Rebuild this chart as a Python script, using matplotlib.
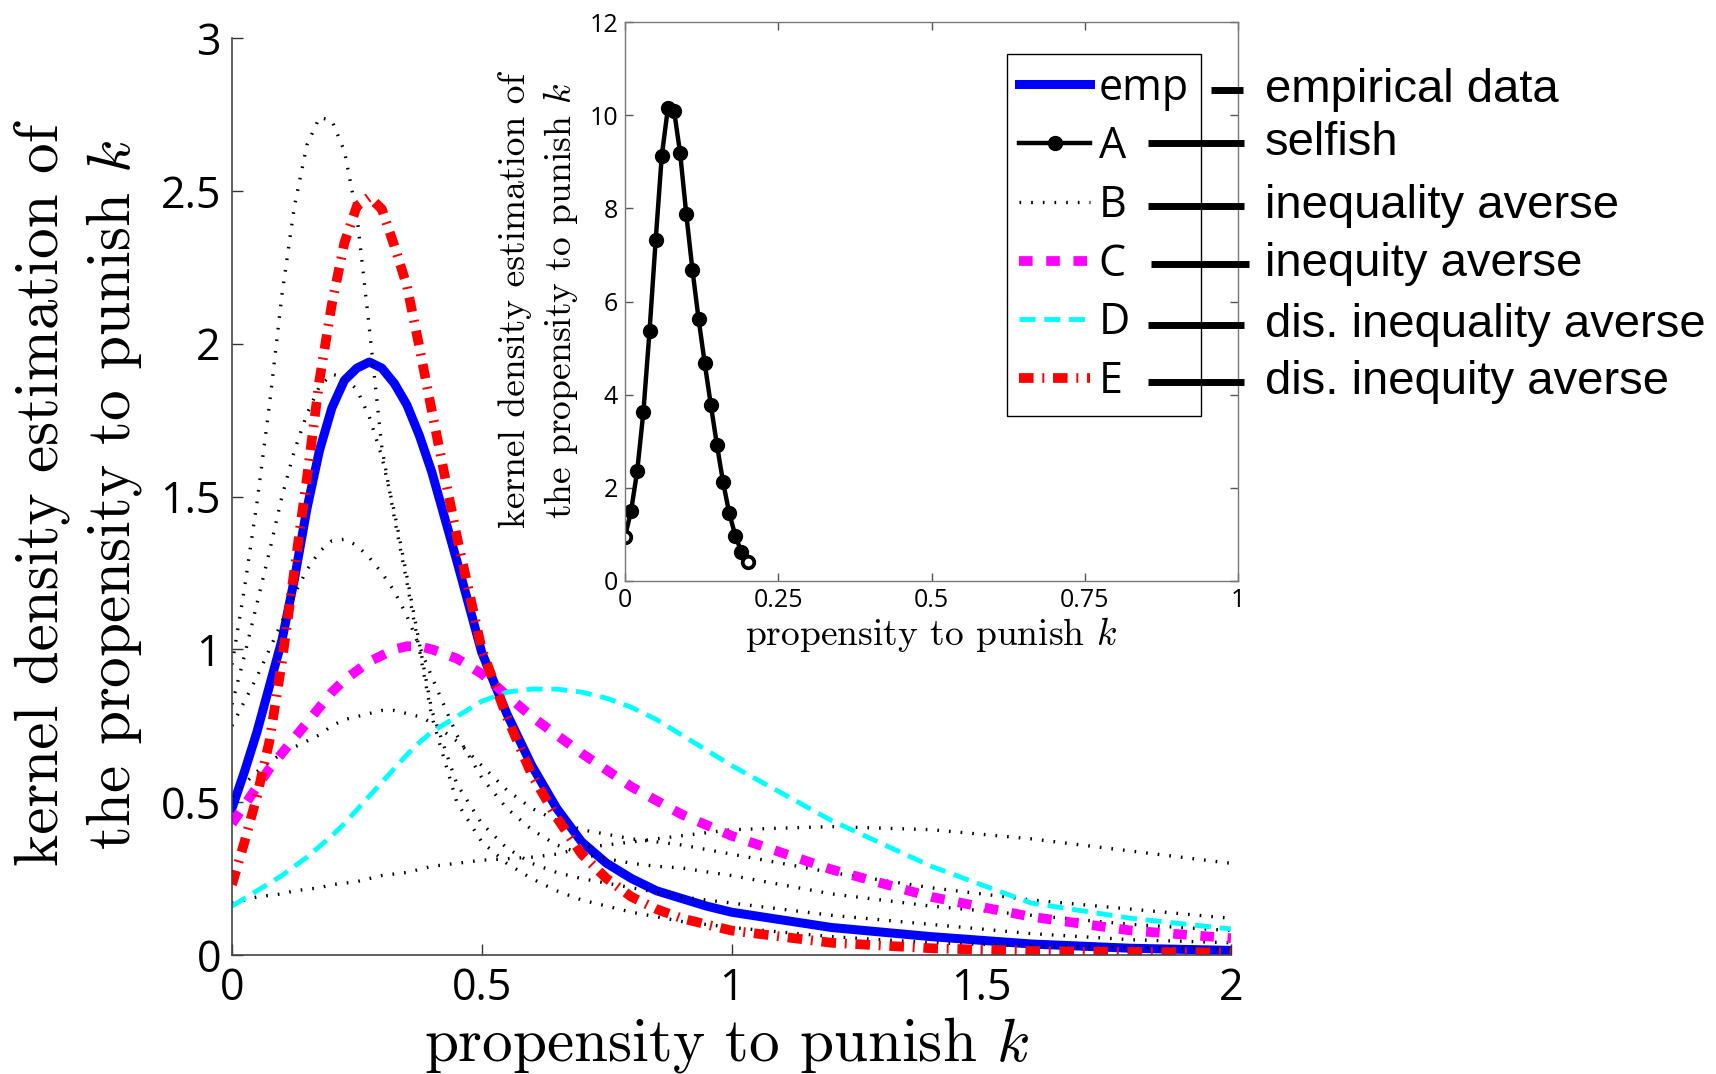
import numpy as np
import matplotlib
matplotlib.use('Agg')
import matplotlib.pyplot as plt
from matplotlib.lines import Line2D

plt.rcParams['font.family'] = 'Open Sans'
plt.rcParams['mathtext.fontset'] = 'cm'

# propensity to punish k (main plot grid)
k = [0, 0.025, 0.05, 0.075, 0.1, 0.125, 0.15, 0.175, 0.2, 0.225, 0.25, 0.275, 0.3, 0.325,
     0.35, 0.375, 0.4, 0.45, 0.5, 0.55, 0.6, 0.65, 0.7, 0.75, 0.8, 0.85, 0.9, 0.95, 1.0,
     1.2, 1.4, 1.6, 1.8, 2.0]

emp = [0.48, 0.60, 0.73, 0.88, 1.03, 1.23, 1.46, 1.65, 1.79, 1.88, 1.92, 1.94, 1.92, 1.87,
       1.80, 1.70, 1.58, 1.29, 0.99, 0.79, 0.62, 0.48, 0.37, 0.30, 0.25, 0.21, 0.185, 0.16, 0.14,
       0.09, 0.06, 0.036, 0.022, 0.015]

# inequality averse (several runs)
B1 = [0.95, 1.20, 1.48, 1.80, 2.16, 2.45, 2.65, 2.74, 2.73, 2.63, 2.42, 2.05, 1.66, 1.43,
      1.22, 1.0, 0.78, 0.50, 0.37, 0.30, 0.25, 0.21, 0.18, 0.16, 0.14, 0.125, 0.11, 0.10, 0.09,
      0.06, 0.04, 0.03, 0.025, 0.02]
B2 = [0.82, 0.98, 1.15, 1.32, 1.50, 1.65, 1.77, 1.86, 1.90, 1.89, 1.85, 1.76, 1.63, 1.45,
      1.24, 1.02, 0.80, 0.56, 0.43, 0.35, 0.30, 0.27, 0.25, 0.235, 0.22, 0.205, 0.19, 0.18, 0.17,
      0.13, 0.10, 0.07, 0.05, 0.04]
B3 = [0.75, 0.83, 0.91, 1.0, 1.09, 1.18, 1.26, 1.32, 1.355, 1.36, 1.34, 1.30, 1.25, 1.19,
      1.11, 1.01, 0.91, 0.72, 0.58, 0.48, 0.41, 0.36, 0.33, 0.315, 0.30, 0.29, 0.285, 0.272, 0.26,
      0.20, 0.16, 0.13, 0.10, 0.08]
B4 = [0.52, 0.56, 0.60, 0.63, 0.66, 0.68, 0.70, 0.72, 0.75, 0.77, 0.78, 0.79, 0.80, 0.80,
      0.79, 0.78, 0.76, 0.70, 0.62, 0.54, 0.48, 0.44, 0.41, 0.395, 0.38, 0.37, 0.36, 0.345, 0.33,
      0.27, 0.22, 0.18, 0.15, 0.12]
B5 = [0.17, 0.18, 0.19, 0.195, 0.20, 0.21, 0.215, 0.22, 0.23, 0.235, 0.24, 0.25, 0.26, 0.265,
      0.27, 0.28, 0.29, 0.30, 0.31, 0.315, 0.32, 0.33, 0.35, 0.36, 0.37, 0.38, 0.39, 0.40, 0.41,
      0.42, 0.41, 0.38, 0.34, 0.30]

C = [0.43, 0.49, 0.55, 0.61, 0.66, 0.71, 0.76, 0.81, 0.86, 0.90, 0.93, 0.96, 0.98, 1.0,
     1.01, 1.01, 1.0, 0.97, 0.92, 0.85, 0.78, 0.72, 0.66, 0.605, 0.55, 0.505, 0.46, 0.425, 0.39,
     0.28, 0.19, 0.125, 0.08, 0.055]
D = [0.16, 0.185, 0.21, 0.235, 0.26, 0.29, 0.32, 0.355, 0.39, 0.43, 0.475, 0.52, 0.565, 0.61,
     0.655, 0.695, 0.73, 0.78, 0.83, 0.86, 0.87, 0.87, 0.86, 0.84, 0.81, 0.77, 0.72, 0.67, 0.62,
     0.44, 0.29, 0.17, 0.12, 0.085]
E = [0.23, 0.37, 0.52, 0.70, 0.96, 1.26, 1.56, 1.88, 2.13, 2.33, 2.45, 2.48, 2.44, 2.32,
     2.19, 1.99, 1.78, 1.37, 1.00, 0.78, 0.59, 0.45, 0.33, 0.25, 0.19, 0.15, 0.12, 0.10, 0.08,
     0.04, 0.022, 0.013, 0.01, 0.008]

# inset: selfish model
inset_k = [0, 0.01, 0.02, 0.03, 0.04, 0.05, 0.06, 0.07, 0.08, 0.09, 0.10,
           0.11, 0.12, 0.13, 0.14, 0.15, 0.16, 0.17, 0.18, 0.19, 0.20]
A = [0.95, 1.51, 2.37, 3.63, 5.36, 7.31, 9.13, 10.15, 10.10, 9.18, 7.87,
     6.68, 5.63, 4.68, 3.78, 2.92, 2.12, 1.46, 0.97, 0.62, 0.41]

legend_names = ['emp', 'A', 'B', 'C', 'D', 'E']
descriptions = ['empirical data', 'selfish', 'inequality averse', 'inequity averse',
                'dis. inequality averse', 'dis. inequity averse']

W, H = 1716, 1074


def box(x0, y0, x1, y1):
    return [x0 / W, 1 - y1 / H, (x1 - x0) / W, (y1 - y0) / H]


fig = plt.figure(figsize=(W / 100, H / 100), dpi=100)

# ---- main plot
ax = fig.add_axes(box(232, 38, 1231, 955))
ln_emp, = ax.plot(k, emp, color='blue', lw=6.5)
for b in [B1, B2, B3, B4, B5]:
    ln_B, = ax.plot(k, b, color='black', lw=2.4, linestyle=(0, (0.5, 3.0)))
ln_C, = ax.plot(k, C, color='magenta', lw=7, linestyle=(0, (1.4, 1.4)))
ln_D, = ax.plot(k, D, color='cyan', lw=3.5, linestyle=(0, (3.3, 1.8)))
ln_E, = ax.plot(k, E, color='red', lw=7, linestyle=(0, (1.5, 0.9, 0.2, 0.9)))

ax.set_xlim(0, 2)
ax.set_ylim(0, 3)
ax.set_xticks([0, 0.5, 1, 1.5, 2])
ax.set_xticklabels(['0', '0.5', '1', '1.5', '2'])
ax.set_yticks([0, 0.5, 1, 1.5, 2, 2.5, 3])
ax.set_yticklabels(['0', '0.5', '1', '1.5', '2', '2.5', '3'])
ax.tick_params(direction='in', length=8, width=1, labelsize=31, color='#333333', pad=8)
ax.spines['top'].set_visible(False)
ax.spines['right'].set_visible(False)
for s in ['left', 'bottom']:
    ax.spines[s].set_color('#444444')
    ax.spines[s].set_linewidth(1.2)

fig.text(79 / W, 1 - 495 / H, 'kernel density estimation of\nthe propensity to punish $k$',
         rotation=90, ha='center', va='center', fontsize=44, family='cmr10',
         linespacing=1.3, multialignment='center')
fig.text(727 / W, 1 - 1045 / H, 'propensity to punish $k$', ha='center', va='center',
         fontsize=44, family='cmr10')

# ---- inset
ins = fig.add_axes(box(625, 22, 1238, 581))
ln_A, = ins.plot(inset_k, A, color='black', lw=3.2, marker='o', ms=10)
ins.plot(np.array(inset_k)[[0, -1]], np.array(A)[[0, -1]], 'o', ms=8, mfc='white',
         mec='black', mew=2.4)
ins.set_xlim(0, 1)
ins.set_ylim(0, 12)
ins.set_xticks([0, 0.25, 0.5, 0.75, 1])
ins.set_xticklabels(['0', '0.25', '0.5', '0.75', '1'])
ins.set_yticks([0, 2, 4, 6, 8, 10, 12])
ins.tick_params(direction='in', top=True, right=True, length=6, width=1,
                labelsize=18, pad=5, color='#555555')
for s in ins.spines.values():
    s.set_color('#777777')
    s.set_linewidth(1.0)

fig.text(539 / W, 1 - 301 / H, 'kernel density estimation of\nthe propensity to punish $k$',
         rotation=90, ha='center', va='center', fontsize=27, family='cmr10',
         linespacing=1.3, multialignment='center')
fig.text(931 / W, 1 - 635 / H, 'propensity to punish $k$', ha='center', va='center',
         fontsize=27, family='cmr10')

leg = ins.legend([ln_emp, ln_A, ln_B, ln_C, ln_D, ln_E], legend_names,
                 loc='upper left', bbox_to_anchor=(1007 / W, 1 - 54 / H),
                 bbox_transform=fig.transFigure, fontsize=31, handlelength=1.65,
                 handletextpad=0.2, labelspacing=0.33, borderpad=0.28, borderaxespad=0,
                 fancybox=False, edgecolor='black', framealpha=1, numpoints=1)
leg.get_frame().set_linewidth(1.0)

# ---- connectors to descriptions
row_y = [90, 143, 206, 264, 325, 382]
line_x0 = [1211, 1148, 1148, 1151, 1148, 1148]
line_x1 = [1243, 1244, 1244, 1249, 1244, 1244]
for y, x0, x1, txt in zip(row_y, line_x0, line_x1, descriptions):
    fig.add_artist(Line2D([x0 / W, x1 / W], [1 - y / H, 1 - y / H], transform=fig.transFigure,
                          color='black', lw=5, solid_capstyle='butt'))
    fig.text(1265 / W, 1 - y / H, txt, fontsize=34, family='Liberation Sans',
             ha='left', va='center')

fig.savefig('out.png', dpi=100)
